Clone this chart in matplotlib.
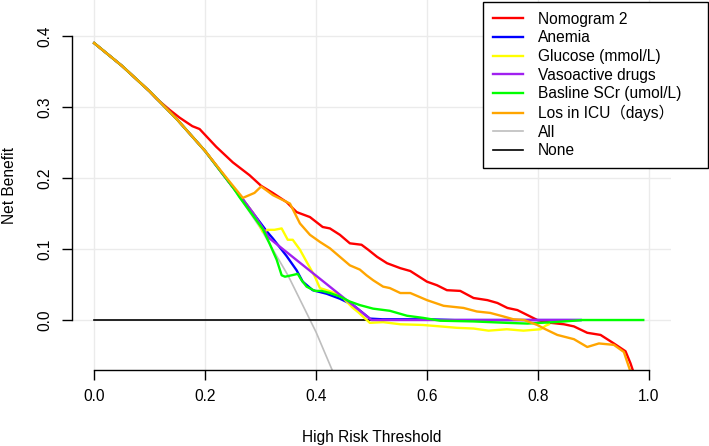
import matplotlib
matplotlib.use("Agg")
import matplotlib.pyplot as plt

plt.rcParams["font.family"] = ["Liberation Sans", "Noto Sans CJK SC", "DejaVu Sans"]
plt.rcParams["font.size"] = 11.2

# net benefit curves
ALL_T = [0.0, 0.05, 0.1, 0.15, 0.2, 0.25, 0.3, 0.35, 0.4, 0.45]
ALL_NB = [0.39, 0.358, 0.322, 0.282, 0.238, 0.187, 0.129, 0.062, -0.017, -0.109]

NONE_T = [0.0, 0.99]
NONE_NB = [0.0, 0.0]

NOMO_T = [0.0, 0.05, 0.1, 0.112, 0.136, 0.154, 0.177, 0.19, 0.22, 0.25, 0.28, 0.301,
          0.322, 0.347, 0.365, 0.389, 0.412, 0.425, 0.443, 0.461, 0.482, 0.494, 0.51,
          0.528, 0.552, 0.57, 0.6, 0.618, 0.636, 0.66, 0.684, 0.709, 0.727, 0.745, 0.763,
          0.781, 0.799, 0.823, 0.847, 0.865, 0.889, 0.913, 0.937, 0.958, 0.967, 0.973]
NOMO_NB = [0.39, 0.358, 0.322, 0.312, 0.296, 0.285, 0.273, 0.269, 0.244, 0.222, 0.204, 0.189,
           0.179, 0.166, 0.152, 0.145, 0.131, 0.129, 0.12, 0.108, 0.106, 0.099, 0.089,
           0.08, 0.073, 0.069, 0.054, 0.049, 0.042, 0.041, 0.031, 0.028, 0.024, 0.017, 0.014,
           0.007, 0.0, -0.004, -0.006, -0.009, -0.018, -0.021, -0.033, -0.044, -0.061, -0.075]

ANEMIA_T = [0.0, 0.05, 0.1, 0.15, 0.2, 0.25, 0.268, 0.289, 0.311, 0.322, 0.347, 0.365, 0.376,
            0.394, 0.419, 0.443, 0.467, 0.497, 0.52, 0.6, 0.65, 0.877]
ANEMIA_NB = [0.39, 0.358, 0.322, 0.282, 0.238, 0.187, 0.17, 0.148, 0.125, 0.115, 0.09, 0.07, 0.054,
             0.042, 0.037, 0.03, 0.021, 0.002, 0.001, 0.001, 0.0, 0.0]

GLUC_T = [0.0, 0.05, 0.1, 0.15, 0.2, 0.25, 0.268, 0.289, 0.304, 0.313, 0.325, 0.338, 0.349, 0.358,
          0.371, 0.383, 0.398, 0.407, 0.419, 0.434, 0.449, 0.465, 0.476, 0.497, 0.521, 0.552,
          0.593, 0.624, 0.654, 0.684, 0.711, 0.744, 0.774, 0.805, 0.814, 0.82]
GLUC_NB = [0.39, 0.358, 0.322, 0.282, 0.238, 0.187, 0.17, 0.148, 0.124, 0.127, 0.127, 0.129, 0.113,
           0.113, 0.099, 0.082, 0.061, 0.045, 0.042, 0.038, 0.031, 0.018, 0.011, -0.004, -0.003,
           -0.006, -0.007, -0.009, -0.011, -0.012, -0.015, -0.013, -0.015, -0.013, -0.008, -0.006]

VASO_T = [0.0, 0.05, 0.1, 0.15, 0.2, 0.25, 0.268, 0.289, 0.316, 0.5, 0.877]
VASO_NB = [0.39, 0.358, 0.322, 0.282, 0.238, 0.187, 0.17, 0.148, 0.115, 0.0, 0.0]

SCR_T = [0.0, 0.05, 0.1, 0.15, 0.2, 0.25, 0.262, 0.304, 0.316, 0.329, 0.338, 0.344, 0.356, 0.367,
         0.374, 0.383, 0.398, 0.41, 0.425, 0.443, 0.461, 0.479, 0.503, 0.533, 0.564, 0.593,
         0.624, 0.684, 0.744, 0.781, 0.829, 0.865, 0.88, 0.99]
SCR_NB = [0.39, 0.358, 0.322, 0.282, 0.238, 0.187, 0.173, 0.128, 0.108, 0.085, 0.063, 0.061, 0.063,
          0.065, 0.056, 0.047, 0.041, 0.041, 0.038, 0.033, 0.026, 0.021, 0.016, 0.013, 0.006,
          0.003, -0.001, -0.002, -0.004, -0.005, -0.003, -0.001, 0.0, 0.0]

LOS_T = [0.0, 0.05, 0.1, 0.15, 0.2, 0.244, 0.268, 0.289, 0.301, 0.31, 0.322, 0.34, 0.353, 0.362,
         0.371, 0.389, 0.407, 0.425, 0.443, 0.461, 0.479, 0.491, 0.503, 0.521, 0.533, 0.552,
         0.57, 0.6, 0.63, 0.666, 0.69, 0.714, 0.738, 0.756, 0.775, 0.799, 0.811, 0.835, 0.865,
         0.889, 0.91, 0.937, 0.955, 0.961, 0.968]
LOS_NB = [0.39, 0.358, 0.322, 0.282, 0.238, 0.195, 0.172, 0.179, 0.188, 0.183, 0.176, 0.169, 0.164,
          0.15, 0.136, 0.12, 0.11, 0.101, 0.089, 0.077, 0.071, 0.063, 0.056, 0.047, 0.045, 0.038,
          0.038, 0.028, 0.02, 0.017, 0.012, 0.01, 0.005, 0.001, 0.0, -0.007, -0.012, -0.021,
          -0.027, -0.038, -0.033, -0.035, -0.045, -0.059, -0.075]

SERIES = [
    ("Nomogram 2", NOMO_T, NOMO_NB, "#FF0000"),
    ("Anemia", ANEMIA_T, ANEMIA_NB, "#0000FF"),
    ("Glucose (mmol/L)", GLUC_T, GLUC_NB, "#FFFF00"),
    ("Vasoactive drugs", VASO_T, VASO_NB, "#A020F0"),
    ("Basline SCr (umol/L)", SCR_T, SCR_NB, "#00FF00"),
    ("Los in ICU（days）", LOS_T, LOS_NB, "#FFA500"),
]

fig = plt.figure(figsize=(7.09, 4.46), dpi=100)
ax = fig.add_axes([72 / 709, 76 / 446, 599 / 709, 370 / 446])

ax.set_xlim(-0.04, 1.04)
ax.set_ylim(-0.0704, 0.4507)

ax.grid(True, color="#EBEBEB", linewidth=1.0)
ax.set_axisbelow(True)

h_all, = ax.plot(ALL_T, ALL_NB, color="#BEBEBE", linewidth=1.2, label="All")
h_none, = ax.plot(NONE_T, NONE_NB, color="#000000", linewidth=1.2, label="None")
handles = []
for name, t, nb, col in SERIES:
    h, = ax.plot(t, nb, color=col, linewidth=1.7, label=name)
    handles.append(h)
handles += [h_all, h_none]

for side in ["top", "right"]:
    ax.spines[side].set_visible(False)
ax.spines["left"].set_bounds(0, 0.4)
ax.spines["bottom"].set_bounds(0, 1.0)
ax.spines["left"].set_linewidth(1.0)
ax.spines["bottom"].set_linewidth(1.0)

ax.set_xticks([0.0, 0.2, 0.4, 0.6, 0.8, 1.0])
ax.set_yticks([0.0, 0.1, 0.2, 0.3, 0.4])
ax.tick_params(length=7, width=1.0, pad=7, labelsize=11.2)
ax.tick_params(axis="y", labelrotation=90)
for lab in ax.get_yticklabels():
    lab.set_va("center")

ax.set_xlabel("High Risk Threshold", fontsize=11.2)
ax.xaxis.set_label_coords(0.5, -0.162)
ax.set_ylabel("Net Benefit", fontsize=11.2)
ax.yaxis.set_label_coords(-0.091, 0.5)

# R-style legend box: wider than its contents, flush to the right edge
leg = fig.legend(handles=handles, loc="upper left",
                 bbox_to_anchor=(483 / 709, 0, 225 / 709, 1 - 2 / 446), mode="expand",
                 borderaxespad=0, fancybox=False, framealpha=1, edgecolor="black",
                 fontsize=11.2, handlelength=1.94, handletextpad=0.97, labelspacing=0.23,
                 borderpad=0.63)
leg.get_frame().set_linewidth(1.0)

fig.savefig("out.png", dpi=100)
